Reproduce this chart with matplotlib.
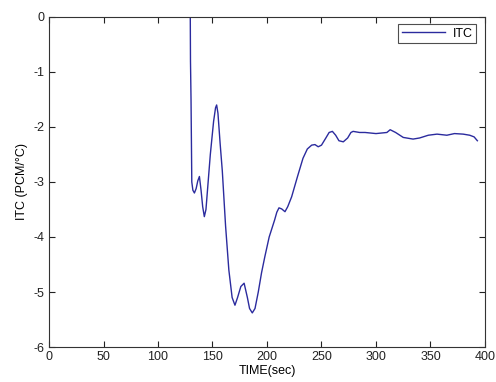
import matplotlib
matplotlib.use("Agg")
import matplotlib.pyplot as plt

plt.rcParams['font.family'] = ['Liberation Sans', 'DejaVu Sans']
plt.rcParams['axes.unicode_minus'] = False

time_sec = [129.5, 129.8, 130.3, 131, 132, 133.4, 135, 136.5, 138, 139.5, 141, 142.5, 144,
            146, 148, 151, 152.8, 153.8, 155, 157, 159, 162, 165, 168, 170.6, 173, 176, 179,
            182, 184, 186.5, 189, 192, 195, 198, 202, 207, 209, 211, 213.5, 216.5, 219,
            222.6, 228, 233, 237, 241, 244, 247, 250, 254, 257, 260, 263, 266, 270, 274, 277,
            279, 285, 290, 300, 310, 313, 318, 325, 334, 340, 348, 356, 365, 372, 380, 386,
            390, 393]
itc = [0.5, -0.8, -1.5, -3.0, -3.15, -3.2, -3.12, -2.98, -2.9, -3.15, -3.45, -3.63, -3.5,
       -3.0, -2.5, -1.9, -1.65, -1.6, -1.75, -2.3, -2.8, -3.8, -4.6, -5.1, -5.24, -5.1, -4.9,
       -4.84, -5.1, -5.3, -5.38, -5.3, -5.0, -4.65, -4.36, -4.0, -3.69, -3.55, -3.47, -3.49,
       -3.54, -3.45, -3.27, -2.9, -2.57, -2.4, -2.33, -2.32, -2.36, -2.33, -2.2, -2.1, -2.08,
       -2.15, -2.25, -2.27, -2.2, -2.1, -2.08, -2.1, -2.1, -2.12, -2.1, -2.05, -2.1, -2.19,
       -2.22, -2.2, -2.15, -2.13, -2.15, -2.12, -2.13, -2.15, -2.18, -2.25]

x_ticks = [0, 50, 100, 150, 200, 250, 300, 350, 400]
y_ticks = [-6, -5, -4, -3, -2, -1, 0]

fig = plt.figure(figsize=(4.96, 3.82), dpi=100)
ax = fig.add_axes([0.0988, 0.0916, 0.879, 0.864])
ax.plot(time_sec, itc, color='#2b2b9e', lw=1.0, label='ITC')
ax.set_xlim(0, 400)
ax.set_ylim(-6, 0)
ax.set_xticks(x_ticks)
ax.set_yticks(y_ticks)
ax.tick_params(direction='in', length=4, width=0.8, top=True, right=True,
               labelsize=9, colors='#222222', pad=3)
for s in ax.spines.values():
    s.set_color('#333333')
    s.set_linewidth(0.8)
ax.set_xlabel('TIME(sec)', fontsize=9, labelpad=1)
ax.set_ylabel('ITC (PCM/°C)', fontsize=9, labelpad=4)
leg = ax.legend(loc='upper right', fontsize=9, frameon=True, fancybox=False,
                edgecolor='#222222', handlelength=3.5, borderpad=0.25,
                handletextpad=0.6, bbox_to_anchor=(0.985, 0.985), borderaxespad=0.2)
leg.get_frame().set_linewidth(0.8)
fig.savefig('out.png', dpi=100)
